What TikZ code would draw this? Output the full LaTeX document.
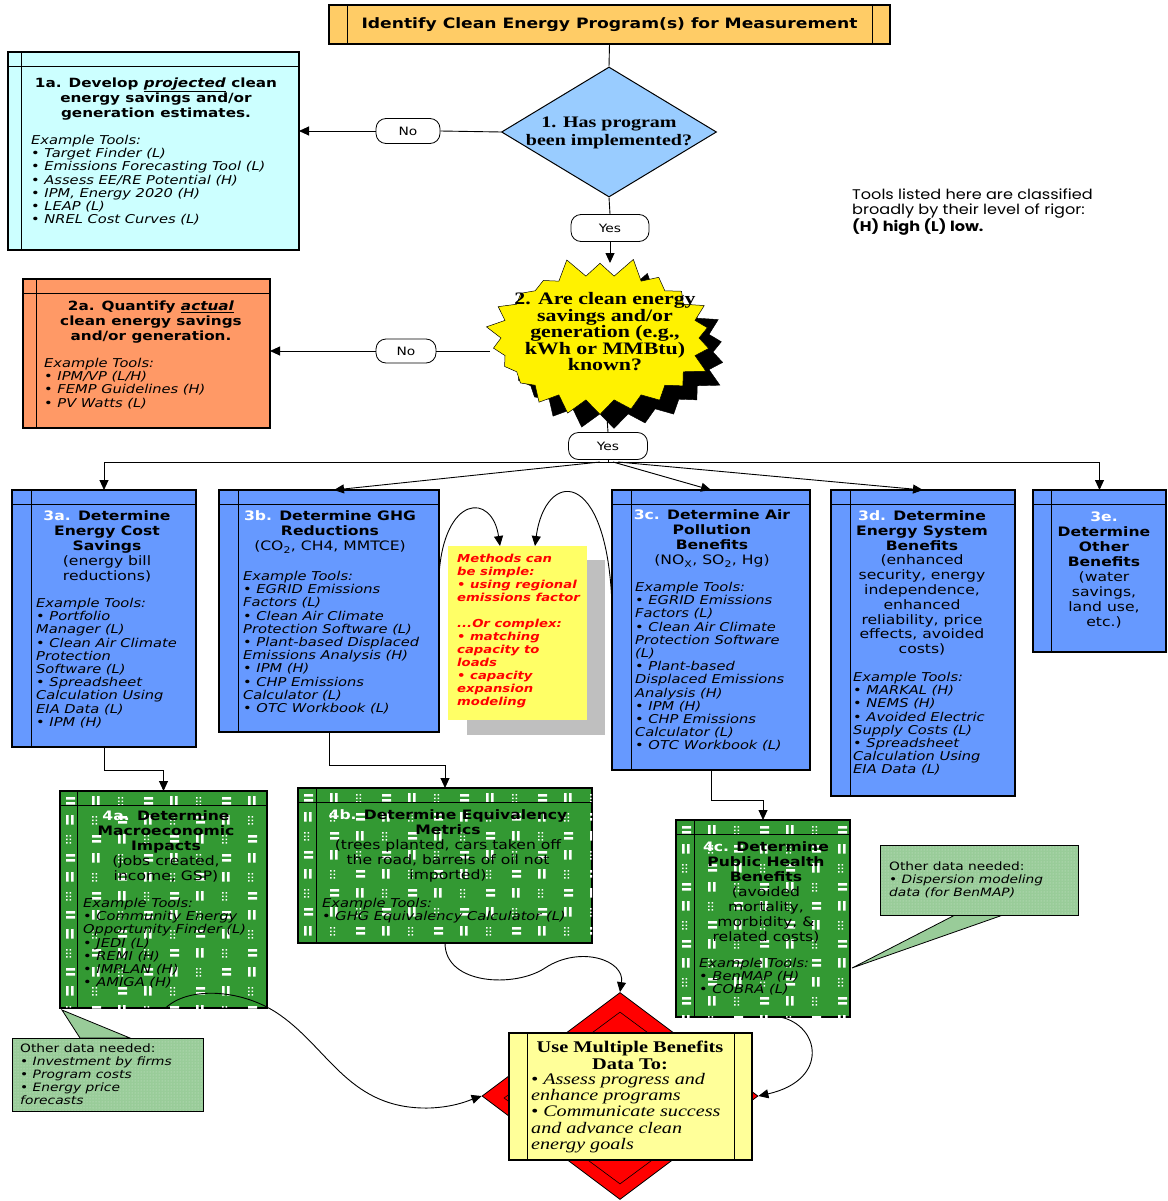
\documentclass[tikz,border=0pt]{standalone}
\usepackage{fontspec}
\setmainfont{DejaVu Sans}[FakeStretch=1.2]
\newfontfamily\serifb{Liberation Serif}[FakeStretch=1.25]
\newfontfamily\notefont{Poppins}[FakeStretch=1.15]
\usetikzlibrary{shapes.geometric,shapes.symbols,arrows.meta,patterns}
\definecolor{topor}{HTML}{FFCC66}
\definecolor{cyanl}{HTML}{CCFFFF}
\definecolor{dblue}{HTML}{99CCFF}
\definecolor{oran}{HTML}{FF9966}
\definecolor{blu3}{HTML}{6699FF}
\definecolor{grn4}{HTML}{339933}
\definecolor{calg}{HTML}{99CC99}
\definecolor{ylw}{HTML}{FFFF99}
\definecolor{myel}{HTML}{FFFF66}
\newcommand{\tbul}{\textbullet\ }
\tikzset{
 pbox/.style={draw=black, line width=1.1pt, inner sep=0pt, outer sep=0pt, anchor=north west},
 thinl/.style={line width=0.8pt},
 conn/.style={line width=0.9pt},
 arr/.style={conn, -{Triangle[length=10pt,width=9pt]}},
 pill/.style={draw, line width=0.8pt, rounded corners=10pt, fill=white, minimum width=64pt, minimum height=25pt, inner sep=0pt, font=\fontsize{11.5}{13}\selectfont},
 ttl/.style={font=\bfseries\fontsize{13}{15}\selectfont, align=center, inner sep=0pt, anchor=north, yshift=-2.5pt},
 tools/.style={font=\itshape\fontsize{12.2}{13.2}\selectfont, align=left, inner sep=0pt, anchor=north west, yshift=-2pt},
 smalltx/.style={font=\itshape\fontsize{11.5}{13}\selectfont, align=left, inner sep=0pt, anchor=north west, yshift=-2.5pt},
 starb/.style={starburst, starburst points=22, starburst point height=20pt, random starburst=5, minimum width=238pt, minimum height=165pt, inner sep=0pt},
}
\newcommand{\pbx}[7]{%
 \node[pbox, fill=#6, minimum width={#4-#2}, minimum height={#5-#3}] (#1) at (#2,#3) {};
}
\newcommand{\pbxlines}[2]{%
 \draw[thinl] ([yshift=-14pt]#1.north west) -- ([yshift=-14pt]#1.north east);
 \draw[thinl] ([xshift=#2pt]#1.north west) -- ([xshift=#2pt]#1.south west);
}
\newcommand{\plaid}[4]{%
\begin{scope}
\clip (#1,#2) rectangle (#3,#4);
\foreach \rr in {0,...,12}{%
 \foreach \cc in {0,...,12}{%
  \pgfmathsetmacro{\px}{#1+6+\cc*26}%
  \pgfmathsetmacro{\py}{#2+6+\rr*19}%
  \pgfmathtruncatemacro{\pk}{mod(\cc+\rr,3)}%
  \ifcase\pk
   \fill[white] (\px,\py) rectangle ++(9,2.5) (\px,\py+5) rectangle ++(9,2.5);
  \or
   \fill[white] (\px,\py-1) rectangle ++(2.5,9.5) (\px+5,\py-1) rectangle ++(2.5,9.5);
  \or
   \fill[white] (\px,\py) rectangle ++(1.6,1.6) (\px+3.5,\py) rectangle ++(1.6,1.6) (\px,\py+3.5) rectangle ++(1.6,1.6) (\px+3.5,\py+3.5) rectangle ++(1.6,1.6) (\px,\py+7) rectangle ++(1.6,1.6) (\px+3.5,\py+7) rectangle ++(1.6,1.6);
  \fi
 }}
\end{scope}}
\begin{document}
\begin{tikzpicture}[x=1pt,y=-1pt]
\useasboundingbox (0,0) rectangle (1167,1201);
\fill[white] (0,0) rectangle (1167,1201);

% ---- top box
\node[pbox, anchor=center, fill=topor, minimum width=561pt, minimum height=39pt, font=\bfseries\fontsize{14.3}{16}\selectfont] (top) at (609.5,24.5) {Identify Clean Energy Program(s) for Measurement};
\draw[thinl] ([xshift=18pt]top.north west) -- ([xshift=18pt]top.south west);
\draw[thinl] ([xshift=-18pt]top.north east) -- ([xshift=-18pt]top.south east);

% ---- diamond 1
\node[diamond, draw, line width=1pt, fill=dblue, minimum width=215pt, minimum height=130pt, inner sep=0pt] (d1) at (609,132) {};
\node[font=\serifb\bfseries\fontsize{16}{18}\selectfont, align=center, inner sep=0pt] (d1t) at (609,133) {1. Has program\\been implemented?};

% ---- 1a
\pbx{b1a}{8}{52}{299}{250}{cyanl}{}
\pbxlines{b1a}{13}
\node[ttl, font=\bfseries\fontsize{12.7}{15}\selectfont] (t1a) at (156,75) {1a. Develop \underline{\textit{projected}} clean\\energy savings and/or\\generation estimates.};
\node[tools] (k1a) at (31,133) {Example Tools:\\\tbul Target Finder (L)\\\tbul Emissions Forecasting Tool (L)\\\tbul Assess EE/RE Potential (H)\\\tbul IPM, Energy 2020 (H)\\\tbul LEAP (L)\\\tbul NREL Cost Curves (L)};

\node[pill] (no1) at (408,131) {No};
\node[pill, minimum width=78pt, minimum height=27pt] (yes1) at (610,228) {Yes};

% ---- note
\node[font=\notefont\fontsize{14}{14.5}\selectfont, align=left, inner sep=0pt, anchor=north west] (note) at (852,189) {Tools listed here are classified\\broadly by their level of rigor:\\\bfseries (H) high (L) low.};

% ---- star
\node[starb, fill=black, draw=black] (s2sh) at (614,352) {};
\node[starb, fill=yellow, draw=black, line width=0.5pt] (s2) at (600,338) {};
\node[font=\serifb\bfseries\fontsize{17.5}{16.5}\selectfont, align=center, inner sep=0pt] (s2t) at (605,332) {2. Are clean energy\\savings and/or\\generation (e.g.,\\kWh or MMBtu)\\known?};
\coordinate (s2top) at (610,263);
\coordinate (s2w) at (490,351);
\coordinate (s2b) at (607,418);

% ---- 2a
\pbx{b2a}{23}{279}{270}{428}{oran}{}
\pbxlines{b2a}{13}
\node[ttl, font=\bfseries\fontsize{12.7}{15}\selectfont] (t2a) at (151,298) {2a. Quantify \underline{\textit{actual}}\\clean energy savings\\and/or generation.};
\node[tools] (k2a) at (44,356) {Example Tools:\\\tbul IPM/VP (L/H)\\\tbul FEMP Guidelines (H)\\\tbul PV Watts (L)};

\node[pill, minimum width=60pt, minimum height=24pt] (no2) at (406,351) {No};
\node[pill, minimum width=79pt, minimum height=27pt] (yes2) at (608,446) {Yes};

% ---- 3x boxes
\pbx{b3a}{12}{490}{196}{747}{blu3}{}
\pbxlines{b3a}{19}
\node[ttl] (t3a) at (107,508) {\textcolor{white}{3a.} Determine\\Energy Cost\\Savings\\\mdseries(energy bill\\\mdseries reductions)};
\node[tools] (k3a) at (36,596) {Example Tools:\\\tbul Portfolio\\Manager (L)\\\tbul Clean Air Climate\\Protection\\Software (L)\\\tbul Spreadsheet\\Calculation Using\\EIA Data (L)\\\tbul IPM (H)};

\pbx{b3b}{219}{490}{439}{732}{blu3}{}
\pbxlines{b3b}{19}
\node[ttl] (t3b) at (330,508) {\textcolor{white}{3b.} Determine GHG\\Reductions\\\mdseries(CO\textsubscript{2}, CH4, MMTCE)};
\node[tools] (k3b) at (243,569) {Example Tools:\\\tbul EGRID Emissions\\Factors (L)\\\tbul Clean Air Climate\\Protection Software (L)\\\tbul Plant-based Displaced\\Emissions Analysis (H)\\\tbul IPM (H)\\\tbul CHP Emissions\\Calculator (L)\\\tbul OTC Workbook (L)};

\pbx{b3c}{612}{490}{810}{770}{blu3}{}
\pbxlines{b3c}{19}
\node[ttl] (t3c) at (712,507) {\textcolor{white}{3c.} Determine Air\\Pollution\\Benefits\\\mdseries(NO\textsubscript{X}, SO\textsubscript{2}, Hg)};
\node[tools] (k3c) at (635,580) {Example Tools:\\\tbul EGRID Emissions\\Factors (L)\\\tbul Clean Air Climate\\Protection Software\\(L)\\\tbul Plant-based\\Displaced Emissions\\Analysis (H)\\\tbul IPM (H)\\\tbul CHP Emissions\\Calculator (L)\\\tbul OTC Workbook (L)};

\pbx{b3d}{831}{490}{1015}{796}{blu3}{}
\pbxlines{b3d}{19}
\node[ttl, font=\bfseries\fontsize{13}{14.8}\selectfont] (t3d) at (922,508) {\textcolor{white}{3d.} Determine\\Energy System\\Benefits\\\mdseries(enhanced\\\mdseries security, energy\\\mdseries independence,\\\mdseries enhanced\\\mdseries reliability, price\\\mdseries effects, avoided\\\mdseries costs)};
\node[tools] (k3d) at (853,670) {Example Tools:\\\tbul MARKAL (H)\\\tbul NEMS (H)\\\tbul Avoided Electric\\Supply Costs (L)\\\tbul Spreadsheet\\Calculation Using\\EIA Data (L)};

\pbx{b3e}{1033}{490}{1166}{652}{blu3}{}
\pbxlines{b3e}{18}
\node[ttl, font=\bfseries\fontsize{13}{15}\selectfont] (t3e) at (1104,509) {\textcolor{white}{3e.}\\Determine\\Other\\Benefits\\\mdseries(water\\\mdseries savings,\\\mdseries land use,\\\mdseries etc.)};

% ---- methods box
\node[fill=black!25, minimum width=138pt, minimum height=175pt, inner sep=0pt, anchor=north west] (msh) at (467,560) {};
\node[fill=myel, minimum width=139pt, minimum height=174pt, inner sep=0pt, anchor=north west] (mth) at (448,546) {};
\node[font=\bfseries\itshape\fontsize{11}{13}\selectfont, text=red, align=left, inner sep=0pt, anchor=north west] (mtx) at (457,554) {Methods can\\be simple:\\\tbul using regional\\emissions factor\\[13pt]...Or complex:\\\tbul matching\\capacity to\\loads\\\tbul capacity\\expansion\\modeling};

% ---- branch connectors
\draw[conn] (top.south) -- (d1.north);
\draw[conn] (d1.west) -- (no1.east);
\draw[arr] (no1.west) -- (no1.west -| b1a.east);
\draw[conn] (d1.south) -- (yes1.north);
\draw[arr] (yes1.south) -- (s2top);
\draw[conn] (s2w) -- (no2.east);
\draw[arr] (no2.west) -- (no2.west -| b2a.east);
\draw[conn] (s2b) -- (yes2.north);
\coordinate (br) at (608,462);
\draw[conn] (yes2.south) -- (br);
\draw[conn] (br -| b3a.north) -- (br -| b3e.north);
\draw[arr] (br -| b3a.north) -- (b3a.north);
\draw[arr] (br -| b3e.north) -- (b3e.north);
\draw[arr] ([xshift=-8pt]br) -- ([xshift=5pt]b3b.north);
\draw[arr] ([xshift=5pt]br) -- (b3c.north);
\draw[arr] ([xshift=10pt]br) -- (b3d.north);

\draw[arr] ([yshift=-85pt]b3b.north east) .. controls (444,495) and (492,492) .. ([xshift=52pt]mth.north west);
\draw[arr] ([yshift=-115pt]b3c.north west) .. controls (607,465) and (545,470) .. ([xshift=87pt]mth.north west);

% ---- 4x boxes
\pbx{b4a}{60}{791}{267}{1008}{grn4}{}
\plaid{60}{791}{267}{1008}
\pbxlines{b4a}{17}
\node[ttl] (t4a) at (166,808) {\textcolor{white}{4a.} Determine\\Macroeconomic\\Impacts\\\mdseries(jobs created,\\\mdseries income, GSP)};
\node[tools] (k4a) at (83,896) {Example Tools:\\\tbul Community Energy\\Opportunity Finder (L)\\\tbul JEDI (L)\\\tbul REMI (H)\\\tbul IMPLAN (H)\\\tbul AMIGA (H)};

\pbx{b4b}{298}{788}{592}{943}{grn4}{}
\plaid{298}{788}{592}{943}
\pbxlines{b4b}{18}
\node[ttl] (t4b) at (448,807) {\textcolor{white}{4b.} Determine Equivalency\\Metrics\\\mdseries(trees planted, cars taken off\\\mdseries the road, barrels of oil not\\\mdseries imported)};
\node[tools] (k4b) at (322,896) {Example Tools:\\\tbul GHG Equivalency Calculator (L)};

\pbx{b4c}{676}{820}{850}{1017}{grn4}{}
\plaid{676}{820}{850}{1017}
\pbxlines{b4c}{18}
\node[ttl] (t4c) at (766,839) {\textcolor{white}{4c.} Determine\\Public Health\\Benefits\\\mdseries(avoided\\\mdseries mortality,\\\mdseries morbidity, \&\\\mdseries related costs)};
\node[tools] (k4c) at (699,956) {Example Tools:\\\tbul BenMAP (H)\\\tbul COBRA (L)};

\draw[arr] (b3a.south) -- ++(0,23) -| (b4a.north);
\draw[arr] (b3b.south) -- ++(0,33) -| (b4b.north);
\draw[arr] (b3c.south) -- ++(0,30) -| (b4c.north);

% ---- callouts
\draw[line width=0.8pt, fill=calg] (955,915) -- (852,968) -- (1003,915) -- cycle;
\node[pbox, line width=0.9pt, fill=calg, minimum width=198pt, minimum height=70pt] (cr) at (880,845) {};
\fill[pattern=dots, pattern color=white!55!calg] (881,846) rectangle (1077,914);
\node[smalltx] (crt) at (889,859) {\upshape Other data needed:\\\tbul Dispersion modeling\\data (for BenMAP)};

\draw[line width=0.8pt, fill=calg] (80,1038) -- (62,1010) -- (130,1038) -- cycle;
\node[pbox, line width=0.9pt, fill=calg, minimum width=191pt, minimum height=73pt] (cl) at (12,1038) {};
\fill[pattern=dots, pattern color=white!55!calg] (13,1039) rectangle (202,1110);
\node[smalltx] (clt) at (20,1041) {\upshape Other data needed:\\\tbul Investment by firms\\\tbul Program costs\\\tbul Energy price\\forecasts};

% ---- final
\node[diamond, draw, line width=0.8pt, fill=red, minimum width=276pt, minimum height=207pt, inner sep=0pt] (rd) at (620,1096) {};
\node[diamond, draw, line width=0.6pt, minimum width=232pt, minimum height=172pt, inner sep=0pt] (rdi) at (620,1098) {};
\node[pbox, fill=ylw, minimum width=243pt, minimum height=127pt] (ub) at (509,1033) {};
\draw[thinl] ([xshift=18pt]ub.north west) -- ([xshift=18pt]ub.south west);
\draw[thinl] ([xshift=-18pt]ub.north east) -- ([xshift=-18pt]ub.south east);
\node[font=\serifb\bfseries\fontsize{16.3}{16.5}\selectfont, align=center, inner sep=0pt, anchor=north] (ubt) at (630,1041) {Use Multiple Benefits\\Data To:};
\node[font=\serifb\itshape\fontsize{16.1}{16.3}\selectfont, align=left, inner sep=0pt, anchor=north west] (ubk) at (531,1073) {\tbul Assess progress and\\enhance programs\\\tbul Communicate success\\and advance clean\\energy goals};

\draw[arr] ([xshift=2pt]b4a.south) .. controls (190,985) and (245,990) .. (280,1015) .. controls (330,1050) and (350,1110) .. (430,1108) .. controls (455,1107) and (470,1100) .. (rd.west);
\draw[arr] (b4b.south) .. controls (445,985) and (515,988) .. (545,968) .. controls (580,945) and (625,960) .. (rd.north);
\draw[arr] ([xshift=17pt]b4c.south) .. controls (820,1025) and (830,1080) .. (rd.east);
\end{tikzpicture}
\end{document}
